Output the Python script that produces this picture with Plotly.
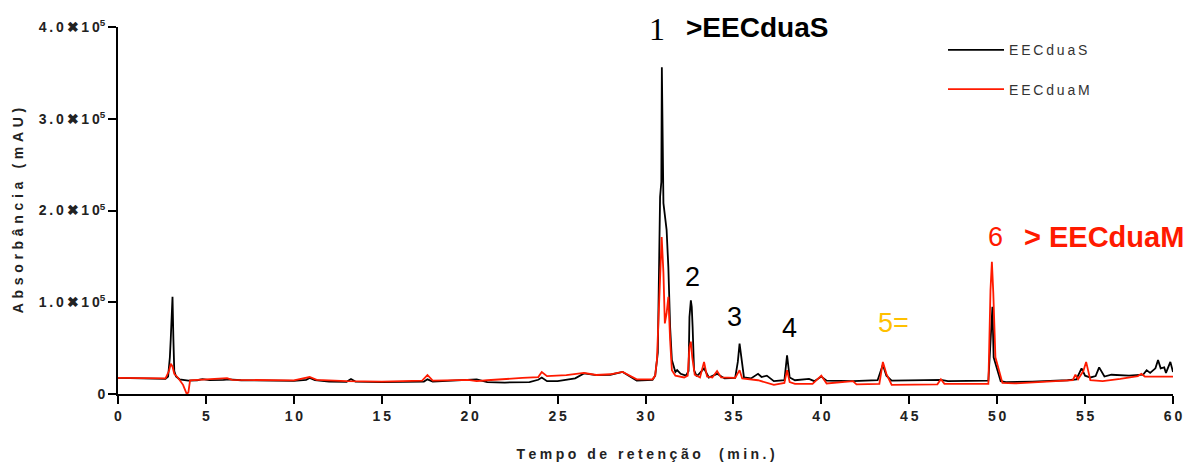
import plotly.graph_objects as go

# ---- data (retention time in min, absorbance in mAU) ----
t_s = [0, 1, 2, 2.7, 2.85, 2.95, 3.0, 3.05, 3.1, 3.15, 3.2, 3.3, 3.5, 4.0, 4.5, 4.8, 5.2, 6.0, 6.3, 7, 8, 9, 10,
       10.7, 10.9, 11.2, 12, 13.0, 13.25, 13.5, 15, 17.4, 17.6, 17.9, 19.9, 20.4, 21, 22, 23.4, 23.9, 24.1, 24.4,
       25, 26, 26.5, 27.2, 28, 28.7, 29.5, 30.4, 30.55, 30.7, 30.83, 30.9, 30.93, 30.97, 31.02, 31.2, 31.3, 31.4,
       31.5, 31.7, 31.8, 32.0, 32.3, 32.45, 32.5, 32.58, 32.63, 32.68, 32.76, 32.9, 33.0, 33.33, 33.6, 34.07,
       34.5, 35.1, 35.25, 35.35, 35.45, 35.6, 36.0, 36.4, 36.6, 36.9, 37.3, 37.9, 38.05, 38.2, 38.5, 39.3, 39.6,
       40.0, 40.3, 41.8, 43.2, 43.5, 43.7, 44.0, 46.8, 47.2, 49.5, 49.65, 49.73, 49.8, 49.97, 50.2, 50.5, 52,
       54.0, 54.5, 54.8, 55.0, 55.3, 55.6, 55.8, 56.1, 56.5, 57.5, 58.3, 58.5, 58.7, 59.0, 59.15, 59.3, 59.5,
       59.6, 59.85, 60]
abs_s = [17500, 17200, 16800, 16500, 19000, 40000, 60000, 82000, 106000, 60000, 25000, 19000, 16000, 14500,
         15000, 16300, 15200, 15300, 16000, 15000, 14800, 14500, 14300, 15500, 17500, 15000, 13500, 13300, 16300,
         13500, 13000, 13500, 16000, 13500, 15000, 16000, 13000, 12500, 13000, 15500, 18000, 14000, 14000, 17000,
         22500, 20500, 21000, 24000, 14500, 15500, 20000, 45000, 215000, 231000, 356000, 230000, 208000, 179000,
         138000, 73000, 37000, 24000, 26000, 22000, 20000, 25000, 84000, 102000, 95000, 73000, 26000, 20000, 21000,
         28000, 18000, 22000, 17000, 17500, 35000, 55000, 40000, 18000, 17000, 22000, 18500, 20000, 14000, 15000,
         42000, 18000, 15000, 16500, 14000, 19000, 14500, 14000, 15000, 32000, 20000, 14500, 15500, 14000, 14500,
         73000, 95000, 40000, 30000, 14000, 13000, 13500, 15000, 16000, 28000, 20000, 18000, 19500, 29000, 19000,
         21000, 20000, 21000, 26000, 23000, 28000, 37000, 28000, 29000, 23000, 35000, 24000]

t_m = [0, 1, 2, 2.7, 2.9, 3.0, 3.1, 3.2, 3.4, 3.7, 3.9, 4.0, 4.1, 4.5, 5, 6.2, 6.5, 8, 10, 10.9, 11.3, 13, 15,
       17.3, 17.6, 17.9, 19.9, 20.4, 21, 23, 23.9, 24.1, 24.4, 25.5, 26.5, 27.2, 28, 28.7, 29.5, 30.4, 30.55,
       30.65, 30.83, 30.92, 31.02, 31.1, 31.2, 31.3, 31.4, 31.5, 31.7, 32.2, 32.4, 32.5, 32.58, 32.66, 32.8,
       33.1, 33.33, 33.5, 33.8, 34.07, 34.3, 35.1, 35.35, 35.5, 36.4, 37.3, 37.9, 38.05, 38.2, 38.5, 39.5, 40.0,
       40.3, 41.8, 42.0, 43.3, 43.5, 43.7, 44.0, 46.6, 46.8, 47.0, 49.5, 49.62, 49.7, 49.78, 49.9, 50.05, 50.3,
       51, 53, 54.3, 54.45, 54.6, 54.9, 55.06, 55.3, 56, 57, 57.5, 58, 58.2, 58.4, 60]
abs_m = [17500, 17300, 17000, 17000, 25000, 33000, 30000, 22000, 18000, 10000, 500, 1500, 15000, 15500, 15500,
         17400, 15500, 15000, 14800, 18500, 15500, 14000, 13500, 14500, 20700, 14500, 15500, 14000, 15000, 17500,
         18500, 24000, 19500, 20500, 23000, 20700, 21500, 24000, 16000, 16000, 20000, 37000, 121000, 171000,
         132000, 77000, 88000, 106000, 59000, 26000, 20000, 18000, 20000, 51000, 57000, 40000, 21000, 18000,
         35000, 19000, 18000, 25000, 18000, 17500, 26000, 17000, 15000, 10000, 12000, 26000, 13000, 11000, 11000,
         20000, 11500, 14000, 10500, 11000, 35000, 22000, 10000, 10500, 16000, 11000, 11000, 113000, 144000,
         110000, 40000, 29000, 12000, 11500, 13500, 15000, 21000, 16000, 25000, 35000, 15000, 14000, 16500,
         18000, 19500, 22000, 19000, 19000]

series_names = ["EECduaS", "EECduaM"]
x_ticks = [0, 5, 10, 15, 20, 25, 30, 35, 40, 45, 50, 55, 60]
y_ticks = [0, 100000, 200000, 300000, 400000]
y_mantissa = ["0", "1.0", "2.0", "3.0", "4.0"]
x_title = "Tempo de retenção  (min.)"
y_title = "Absorbância (mAU)"

BLACK = "#000000"
RED = "#ff1a00"
ORANGE = "#ffc000"
THIN = "\u2009"
MID = "\u2005"
WIDE = "\u2004"


def spaced(s, sp):
    """Mimic the wide letter spacing of the original export."""
    return sp.join(s)


y_ticktext = ["0" if m == "0" else spaced(m + "✖10", THIN) + "<sup>5</sup>" for m in y_mantissa]
x_ticktext = [spaced(str(v), THIN) for v in x_ticks]

fig = go.Figure()
fig.add_trace(go.Scatter(x=t_s, y=abs_s, mode="lines", name=spaced(series_names[0], THIN), legendgroup="s",
                         line=dict(color=BLACK, width=1.8)))
fig.add_trace(go.Scatter(x=t_m, y=abs_m, mode="lines", name=spaced(series_names[1], THIN), legendgroup="m",
                         line=dict(color=RED, width=1.8)))

SANS = "Liberation Sans, Arial, sans-serif"
tick_font = dict(family=SANS, size=14, color="#222222", weight="bold")
title_font = dict(family=SANS, size=14, color="#222222", weight="bold")

fig.update_layout(
    template="none",
    width=1187, height=464,
    margin=dict(l=118, r=14, t=27, b=70, pad=0),
    paper_bgcolor="white", plot_bgcolor="white",
    showlegend=True,
    legend=dict(x=0.782, y=0.98, xanchor="left", yanchor="top", tracegroupgap=18,
                font=dict(family=SANS, size=14, color="#333333"),
                bgcolor="rgba(0,0,0,0)", itemwidth=56),
    xaxis=dict(range=[0, 60], tickvals=x_ticks, ticktext=x_ticktext, showgrid=False, zeroline=False,
               showline=True, linecolor="black", linewidth=2, ticks="outside", ticklen=8,
               tickwidth=2, tickcolor="black", tickfont=tick_font, automargin=False,
               title=dict(text=spaced(x_title, MID), standoff=26, font=title_font)),
    yaxis=dict(range=[0, 400000], tickvals=y_ticks, ticktext=y_ticktext, showgrid=False, zeroline=False,
               showline=True, linecolor="black", linewidth=2, ticks="outside", ticklen=8,
               tickwidth=2, tickcolor="black", tickfont=tick_font, automargin=False,
               title=dict(text=spaced(y_title, WIDE), standoff=12, font=title_font)),
)

annotations = [
    dict(x=30.66, y=398000, text="1", font=dict(family="Liberation Serif, Times New Roman, serif", size=32, color="black")),
    dict(x=32.2, y=399000, text="&gt;EECduaS", xanchor="left", font=dict(family=SANS, size=28, color="black", weight="bold")),
    dict(x=32.65, y=128000, text="2", font=dict(family=SANS, size=27, color="black")),
    dict(x=35.05, y=84000, text="3", font=dict(family=SANS, size=27, color="black")),
    dict(x=38.17, y=72000, text="4", font=dict(family=SANS, size=27, color="black")),
    dict(x=44.1, y=77000, text="5=", font=dict(family=SANS, size=27, color=ORANGE)),
    dict(x=49.9, y=171000, text="6", font=dict(family=SANS, size=27, color=RED)),
    dict(x=51.4, y=171000, text="&gt; EECduaM", xanchor="left", font=dict(family=SANS, size=29, color=RED, weight="bold")),
]
for a in annotations:
    a.setdefault("xanchor", "center")
    fig.add_annotation(xref="x", yref="y", showarrow=False, yanchor="middle", **a)

fig.write_html("out.html")
